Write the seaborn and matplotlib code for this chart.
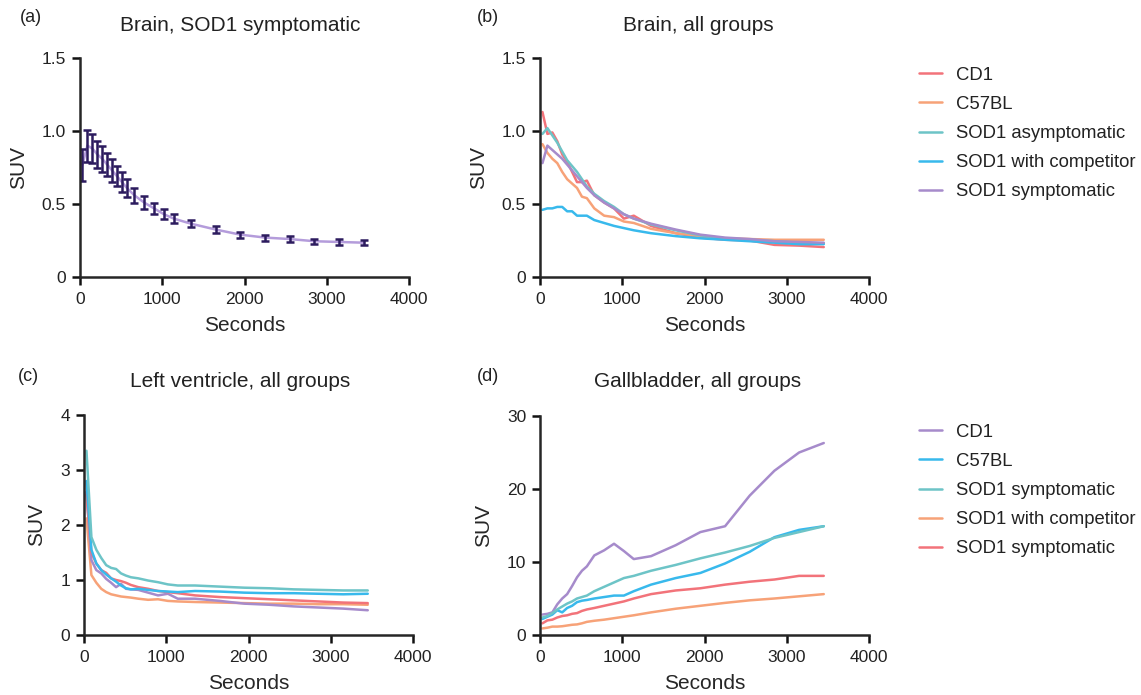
import numpy as np
import pandas as pd
import matplotlib
matplotlib.use("Agg")
import matplotlib.pyplot as plt
import seaborn as sns

# ---------------- data ----------------
T = [30, 90, 150, 210, 270, 330, 390, 450, 510, 570, 660, 780, 900, 1020,
     1140, 1350, 1650, 1950, 2250, 2550, 2850, 3150, 3450]

# (a) Brain, SOD1 symptomatic: mean and error
a_mean = [0.77, 0.90, 0.88, 0.84, 0.81, 0.77, 0.73, 0.69, 0.65, 0.61, 0.56, 0.51,
          0.47, 0.43, 0.40, 0.365, 0.325, 0.29, 0.27, 0.26, 0.245, 0.24, 0.235]
a_err = [0.11, 0.11, 0.10, 0.09, 0.09, 0.08, 0.08, 0.07, 0.07, 0.06, 0.05, 0.045,
         0.04, 0.035, 0.03, 0.025, 0.025, 0.02, 0.02, 0.02, 0.018, 0.018, 0.018]

# (b) Brain, all groups
b_labels = ["CD1", "C57BL", "SOD1 asymptomatic", "SOD1 with competitor", "SOD1 symptomatic"]
b_cd1 = [1.13, 0.98, 0.99, 0.93, 0.84, 0.79, 0.72, 0.65, 0.65, 0.66, 0.56, 0.51,
         0.47, 0.40, 0.42, 0.35, 0.30, 0.27, 0.255, 0.25, 0.22, 0.215, 0.205]
b_c57 = [0.91, 0.85, 0.81, 0.78, 0.72, 0.67, 0.64, 0.61, 0.55, 0.54, 0.47, 0.42,
         0.41, 0.38, 0.37, 0.33, 0.30, 0.28, 0.265, 0.26, 0.255, 0.255, 0.255]
b_asym = [0.98, 1.02, 0.97, 0.92, 0.86, 0.80, 0.76, 0.72, 0.67, 0.62, 0.57, 0.52,
          0.48, 0.43, 0.40, 0.36, 0.32, 0.285, 0.265, 0.255, 0.245, 0.235, 0.23]
b_comp = [0.46, 0.47, 0.47, 0.48, 0.48, 0.45, 0.45, 0.42, 0.42, 0.42, 0.39, 0.37,
          0.35, 0.335, 0.32, 0.30, 0.28, 0.265, 0.255, 0.245, 0.235, 0.225, 0.225]
b_symp = [0.78, 0.90, 0.87, 0.84, 0.81, 0.77, 0.73, 0.69, 0.65, 0.61, 0.56, 0.51,
          0.47, 0.43, 0.40, 0.365, 0.325, 0.29, 0.27, 0.26, 0.245, 0.24, 0.235]

# (c) Left ventricle, all groups
c_cd1 = [2.55, 1.50, 1.30, 1.18, 1.13, 1.03, 1.00, 0.98, 0.95, 0.91, 0.87, 0.84,
         0.80, 0.78, 0.76, 0.72, 0.69, 0.67, 0.65, 0.63, 0.61, 0.59, 0.58]
c_c57 = [2.12, 1.09, 0.95, 0.84, 0.78, 0.74, 0.72, 0.70, 0.69, 0.68, 0.66, 0.64,
         0.65, 0.62, 0.61, 0.60, 0.59, 0.58, 0.57, 0.57, 0.56, 0.56, 0.55]
c_asym = [3.35, 1.78, 1.55, 1.40, 1.27, 1.22, 1.20, 1.12, 1.08, 1.05, 1.03, 0.99,
          0.96, 0.92, 0.90, 0.90, 0.88, 0.86, 0.85, 0.83, 0.82, 0.81, 0.81]
c_comp = [2.80, 1.55, 1.30, 1.18, 1.10, 1.03, 0.97, 0.90, 0.85, 0.83, 0.84, 0.82,
          0.80, 0.79, 0.78, 0.80, 0.79, 0.77, 0.76, 0.76, 0.75, 0.74, 0.75]
c_symp = [2.60, 1.36, 1.18, 1.12, 1.02, 0.95, 0.87, 0.93, 0.84, 0.83, 0.82, 0.77,
          0.72, 0.75, 0.66, 0.66, 0.62, 0.57, 0.55, 0.52, 0.50, 0.48, 0.45]

# (d) Gallbladder, all groups
d_labels = ["CD1", "C57BL", "SOD1 symptomatic", "SOD1 with competitor", "SOD1 symptomatic"]
d_purple = [2.8, 2.9, 3.1, 4.2, 5.0, 5.6, 6.7, 7.9, 8.8, 9.4, 10.9, 11.6, 12.5, 11.5,
            10.4, 10.8, 12.3, 14.1, 14.9, 19.1, 22.5, 25.0, 26.3]
d_blue = [2.2, 2.5, 2.8, 3.4, 3.1, 3.7, 4.0, 4.5, 4.7, 4.8, 5.0, 5.2, 5.4, 5.4,
          6.0, 6.9, 7.8, 8.5, 9.8, 11.4, 13.4, 14.4, 14.9]
d_teal = [2.4, 2.6, 3.0, 3.5, 3.9, 4.3, 4.6, 5.0, 5.2, 5.4, 6.0, 6.6, 7.2, 7.8,
          8.1, 8.8, 9.6, 10.5, 11.3, 12.2, 13.3, 14.1, 14.9]
d_orange = [0.9, 1.0, 1.15, 1.15, 1.2, 1.3, 1.4, 1.45, 1.6, 1.8, 1.95, 2.1, 2.3, 2.5,
            2.7, 3.1, 3.6, 4.0, 4.4, 4.75, 5.0, 5.3, 5.6]
d_red = [1.6, 2.0, 2.1, 2.4, 2.6, 2.7, 2.9, 3.0, 3.3, 3.5, 3.7, 4.0, 4.3, 4.6,
         5.0, 5.6, 6.1, 6.4, 6.9, 7.3, 7.6, 8.1, 8.1]

RED, ORANGE, TEAL, BLUE, PURPLE = "#F2737A", "#F7A278", "#6DC4C7", "#38B9EC", "#A68BCB"

# ---------------- style ----------------
sns.set_style("ticks")
plt.rcParams["font.family"] = ["Liberation Sans", "DejaVu Sans"]
plt.rcParams["axes.linewidth"] = 1.8
plt.rcParams["xtick.major.width"] = 1.8
plt.rcParams["ytick.major.width"] = 1.8
plt.rcParams["xtick.major.size"] = 6
plt.rcParams["ytick.major.size"] = 6
plt.rcParams["xtick.major.pad"] = 5
plt.rcParams["ytick.major.pad"] = 4
plt.rcParams["xtick.labelsize"] = 12.5
plt.rcParams["ytick.labelsize"] = 12.5
plt.rcParams["text.color"] = "#222222"

W, H = 1141, 695
fig = plt.figure(figsize=(W / 100, H / 100), dpi=100)


def px_axes(l, r, top, bottom):
    return fig.add_axes([l / W, 1 - bottom / H, (r - l) / W, (bottom - top) / H])


ax_a = px_axes(80, 409, 58, 277)
ax_b = px_axes(540, 869, 58, 277)
ax_c = px_axes(84, 413, 415, 635)
ax_d = px_axes(540, 869, 416, 635)


def style(ax, ymax, yticks, yticklabels):
    ax.set_xlim(0, 4000)
    ax.set_ylim(0, ymax)
    ax.set_xticks([0, 1000, 2000, 3000, 4000])
    ax.set_yticks(yticks)
    ax.set_yticklabels(yticklabels)
    sns.despine(ax=ax)
    ax.set_xlabel("Seconds", fontsize=15, labelpad=6)
    ax.set_ylabel("SUV", fontsize=15, labelpad=10)
    ax.tick_params(colors="#111111", labelcolor="#222222")


lw = 1.8

# (a)
sns.lineplot(x=T, y=a_mean, ax=ax_a, color="#B49CDB", linewidth=lw)
ax_a.errorbar(T, a_mean, yerr=a_err, fmt="none", ecolor="#2C1B5E",
              elinewidth=1.8, capsize=3, capthick=1.8)
style(ax_a, 1.5, [0, 0.5, 1.0, 1.5], ["0", "0.5", "1.0", "1.5"])

# (b)
for vals, col, lab in zip([b_cd1, b_c57, b_asym, b_comp, b_symp],
                          [RED, ORANGE, TEAL, BLUE, PURPLE], b_labels):
    sns.lineplot(x=T, y=vals, ax=ax_b, color=col, linewidth=lw, label=lab, legend=False)
style(ax_b, 1.5, [0, 0.5, 1.0, 1.5], ["0", "0.5", "1.0", "1.5"])

# (c)
for vals, col in zip([c_c57, c_symp, c_cd1, c_comp, c_asym],
                     [ORANGE, PURPLE, RED, BLUE, TEAL]):
    sns.lineplot(x=T, y=vals, ax=ax_c, color=col, linewidth=lw, legend=False)
style(ax_c, 4, [0, 1, 2, 3, 4], ["0", "1", "2", "3", "4"])

# (d)
for vals, col, lab in zip([d_purple, d_blue, d_teal, d_orange, d_red],
                          [PURPLE, BLUE, TEAL, ORANGE, RED], d_labels):
    sns.lineplot(x=T, y=vals, ax=ax_d, color=col, linewidth=lw, label=lab, legend=False)
style(ax_d, 30, [0, 10, 20, 30], ["0", "10", "20", "30"])

# legends
for ax, ytop in [(ax_b, 50), (ax_d, 407)]:
    h, l = ax.get_legend_handles_labels()
    ax.legend(h, l, loc="upper left", bbox_to_anchor=(902 / W, 1 - ytop / H),
              bbox_transform=fig.transFigure, frameon=False, fontsize=13.3,
              handlelength=1.28, handletextpad=0.75, labelspacing=0.66)

# titles and panel letters
titles = [(ax_a, "Brain, SOD1 symptomatic", 240.5, 31),
          (ax_b, "Brain, all groups", 698.5, 31),
          (ax_c, "Left ventricle, all groups", 240, 387),
          (ax_d, "Gallbladder, all groups", 698, 387)]
for ax, txt, xc, yb in titles:
    fig.text(xc / W, 1 - yb / H, txt, ha="center", va="baseline", fontsize=15)

for txt, xl, yc in [("(a)", 20, 18), ("(b)", 477, 18), ("(c)", 18, 376.5), ("(d)", 477, 376.5)]:
    fig.text(xl / W, 1 - yc / H, txt, ha="left", va="center", fontsize=13)

fig.savefig("out.png", dpi=100)
